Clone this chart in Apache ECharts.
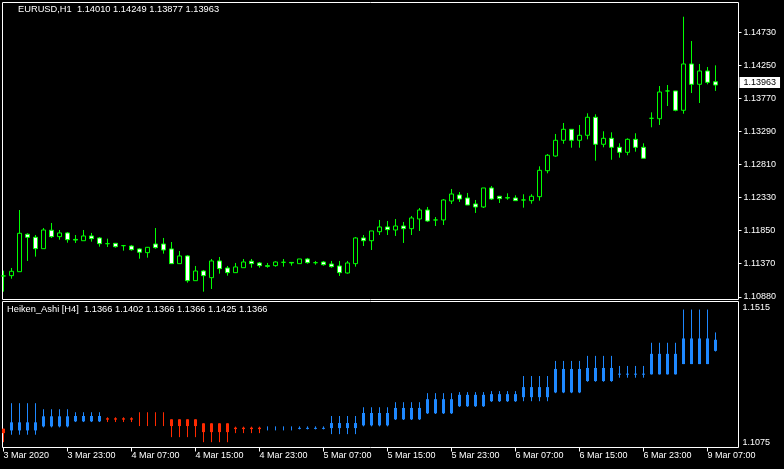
<!DOCTYPE html>
<html><head><meta charset="utf-8">
<script src="https://cdn.jsdelivr.net/npm/echarts@6/dist/echarts.min.js"></script>
<style>html,body{margin:0;padding:0;background:#000;}#c{width:784px;height:469px;}</style>
</head><body><div id="c"></div>
<script>
// ---- categories (H1 bars) ----
const times = [
'3 Mar 15:00','3 Mar 16:00','3 Mar 17:00','3 Mar 18:00','3 Mar 19:00','3 Mar 20:00','3 Mar 21:00','3 Mar 22:00','3 Mar 23:00',
'4 Mar 00:00','4 Mar 01:00','4 Mar 02:00','4 Mar 03:00','4 Mar 04:00','4 Mar 05:00','4 Mar 06:00','4 Mar 07:00','4 Mar 08:00','4 Mar 09:00','4 Mar 10:00','4 Mar 11:00',
'4 Mar 12:00','4 Mar 13:00','4 Mar 14:00','4 Mar 15:00','4 Mar 16:00','4 Mar 17:00','4 Mar 18:00','4 Mar 19:00','4 Mar 20:00','4 Mar 21:00','4 Mar 22:00','4 Mar 23:00',
'5 Mar 00:00','5 Mar 01:00','5 Mar 02:00','5 Mar 03:00','5 Mar 04:00','5 Mar 05:00','5 Mar 06:00','5 Mar 07:00','5 Mar 08:00','5 Mar 09:00','5 Mar 10:00','5 Mar 11:00',
'5 Mar 12:00','5 Mar 13:00','5 Mar 14:00','5 Mar 15:00','5 Mar 16:00','5 Mar 17:00','5 Mar 18:00','5 Mar 19:00','5 Mar 20:00','5 Mar 21:00','5 Mar 22:00','5 Mar 23:00',
'6 Mar 00:00','6 Mar 01:00','6 Mar 02:00','6 Mar 03:00','6 Mar 04:00','6 Mar 05:00','6 Mar 06:00','6 Mar 07:00','6 Mar 08:00','6 Mar 09:00','6 Mar 10:00','6 Mar 11:00',
'6 Mar 12:00','6 Mar 13:00','6 Mar 14:00','6 Mar 15:00','6 Mar 16:00','6 Mar 17:00','6 Mar 18:00','6 Mar 19:00','6 Mar 20:00','6 Mar 21:00','6 Mar 22:00','6 Mar 23:00',
'9 Mar 00:00','9 Mar 01:00','9 Mar 02:00','9 Mar 03:00','9 Mar 04:00','9 Mar 05:00','9 Mar 06:00','9 Mar 07:00','9 Mar 08:00'
];
// ---- EURUSD H1 OHLC ----
const open = [
1.11183,1.11187,1.11245,1.11790,1.11746,1.11580,1.11848,1.11755,1.11809,1.11715,
1.11696,1.11765,1.11736,1.11653,1.11658,1.11624,1.11619,1.11576,1.11522,1.11648,
1.11648,1.11576,1.11362,1.11474,1.11114,1.11255,1.11158,1.11401,1.11299,1.11231,
1.11303,1.11397,1.11372,1.11333,1.11333,1.11382,1.11380,1.11362,1.11430,1.11376,
1.11386,1.11357,1.11328,1.11226,1.11362,1.11736,1.11696,1.11827,1.11896,1.11852,
1.11910,1.11871,1.12012,1.12143,1.11998,1.11998,1.12274,1.12362,1.12318,1.12231,
1.12187,1.12464,1.12343,1.12322,1.12318,1.12289,1.12279,1.12337,1.12715,1.12929,
1.13158,1.13318,1.13158,1.13231,1.13493,1.13100,1.13187,1.13056,1.12983,1.13172,
1.13056,1.13478,1.13472,1.13876,1.13876,1.13595,1.14269,1.13973,1.14167,1.14010];
const close = [
1.11183,1.11251,1.11804,1.11746,1.11580,1.11852,1.11755,1.11809,1.11711,1.11705,
1.11765,1.11726,1.11653,1.11653,1.11609,1.11624,1.11565,1.11528,1.11600,1.11595,
1.11561,1.11362,1.11474,1.11114,1.11255,1.11187,1.11401,1.11289,1.11231,1.11314,
1.11386,1.11362,1.11333,1.11323,1.11386,1.11382,1.11372,1.11430,1.11376,1.11376,
1.11347,1.11318,1.11231,1.11372,1.11736,1.11696,1.11838,1.11896,1.11857,1.11910,
1.11871,1.12027,1.12143,1.11983,1.11998,1.12289,1.12376,1.12303,1.12216,1.12187,
1.12464,1.12303,1.12308,1.12318,1.12279,1.12289,1.12343,1.12721,1.12940,1.13158,
1.13318,1.13158,1.13231,1.13493,1.13100,1.13187,1.13056,1.12983,1.13172,1.13056,
1.12896,1.13478,1.13861,1.13876,1.13595,1.14269,1.13973,1.14167,1.14002,1.13963];
const low = [
1.10954,1.11143,1.11245,1.11401,1.11464,1.11580,1.11736,1.11711,1.11667,1.11663,
1.11696,1.11682,1.11609,1.11605,1.11595,1.11551,1.11551,1.11434,1.11449,1.11580,
1.11507,1.11362,1.11362,1.11085,1.11114,1.10954,1.10993,1.11216,1.11187,1.11231,
1.11303,1.11303,1.11303,1.11303,1.11318,1.11318,1.11333,1.11362,1.11362,1.11347,
1.11333,1.11303,1.11183,1.11216,1.11318,1.11619,1.11561,1.11779,1.11779,1.11765,
1.11663,1.11779,1.11838,1.11969,1.11910,1.11925,1.12231,1.12260,1.12216,1.12100,
1.12172,1.12289,1.12245,1.12293,1.12279,1.12177,1.12235,1.12279,1.12677,1.12919,
1.13108,1.13050,1.13050,1.13172,1.12861,1.13056,1.12875,1.12905,1.12940,1.12992,
1.12896,1.13347,1.13381,1.13657,1.13580,1.13545,1.13846,1.13701,1.13973,1.13877];
const high = [
1.11260,1.11299,1.12143,1.11804,1.11779,1.11881,1.11954,1.11852,1.11823,1.11779,
1.11852,1.11809,1.11750,1.11726,1.11663,1.11634,1.11634,1.11586,1.11605,1.11881,
1.11736,1.11677,1.11546,1.11488,1.11328,1.11270,1.11430,1.11459,1.11328,1.11372,
1.11430,1.11430,1.11386,1.11372,1.11397,1.11430,1.11386,1.11430,1.11445,1.11401,
1.11401,1.11401,1.11401,1.11401,1.11750,1.11779,1.11838,1.11998,1.11983,1.12012,
1.11969,1.12056,1.12172,1.12187,1.12041,1.12303,1.12449,1.12405,1.12391,1.12289,
1.12464,1.12493,1.12347,1.12386,1.12357,1.12372,1.12372,1.12779,1.12958,1.13250,
1.13410,1.13318,1.13381,1.13551,1.13536,1.13289,1.13274,1.13114,1.13187,1.13260,
1.13114,1.13565,1.13948,1.13963,1.13876,1.14957,1.14603,1.14269,1.14225,1.14249];
const lastPrice = 1.13963;

// ---- Heiken Ashi (H4) ----
const haTimes = ['3 Mar 12:00','3 Mar 16:00','3 Mar 20:00','4 Mar 00:00','4 Mar 04:00','4 Mar 08:00','4 Mar 12:00','4 Mar 16:00','4 Mar 20:00',
'5 Mar 00:00','5 Mar 04:00','5 Mar 08:00','5 Mar 12:00','5 Mar 16:00','5 Mar 20:00','6 Mar 00:00','6 Mar 04:00','6 Mar 08:00','6 Mar 12:00',
'6 Mar 16:00','6 Mar 20:00','9 Mar 00:00','9 Mar 04:00','9 Mar 08:00'];
const haOpen  = [1.11317,1.11265,1.11387,1.11538,1.11630,1.11612,1.11599,1.11478,1.11347,1.11326,1.11312,1.11335,1.11417,1.11599,1.11781,1.11994,1.12145,1.12267,1.12410,1.12752,1.12945,1.12955,1.13264,1.13663];
const haClose = [1.11183,1.11508,1.11690,1.11699,1.11590,1.11608,1.11396,1.11214,1.11305,1.11328,1.11342,1.11487,1.11790,1.11942,1.12206,1.12337,1.12358,1.12570,1.13117,1.13147,1.12975,1.13572,1.14036,1.13997];
const haLow   = [1.10910,1.11135,1.11356,1.11517,1.11517,1.11396,1.11062,1.10910,1.11183,1.11265,1.11296,1.11153,1.11387,1.11578,1.11760,1.11973,1.12124,1.12145,1.12388,1.12731,1.12853,1.12950,1.13264,1.13642];
const haHigh  = [1.11317,1.12085,1.11903,1.11812,1.11660,1.11812,1.11599,1.11478,1.11378,1.11387,1.11387,1.11699,1.11963,1.12115,1.12388,1.12419,1.12449,1.12904,1.13359,1.13511,1.13208,1.13906,1.14907,1.14218];

// ---- tick labels ----
const priceTicks = [1.1088, 1.1137, 1.1185, 1.1233, 1.1281, 1.1329, 1.1377, 1.1425, 1.1473];
const haTicks = [1.1515, 1.1075];
const xTickTimes  = ['3 Mar 15:00','3 Mar 23:00','4 Mar 07:00','4 Mar 15:00','4 Mar 23:00','5 Mar 07:00','5 Mar 15:00','5 Mar 23:00','6 Mar 07:00','6 Mar 15:00','6 Mar 23:00','9 Mar 07:00'];
const xTickLabels = ['3 Mar 2020','3 Mar 23:00','4 Mar 07:00','4 Mar 15:00','4 Mar 23:00','5 Mar 07:00','5 Mar 15:00','5 Mar 23:00','6 Mar 07:00','6 Mar 15:00','6 Mar 23:00','9 Mar 07:00'];
const mainTitle = 'EURUSD,H1  1.14010 1.14249 1.13877 1.13963';
const subTitle = 'Heiken_Ashi [H4]  1.1366 1.1402 1.1366 1.1366 1.1425 1.1366';

// ---- build ----
const FONT = 'Liberation Sans';
const FS = 9;
const GREEN = '#00ff00', BLUE = '#1e88ff', RED = '#ff2a00';
function h4Key(t) {
  const p = t.split(' ');
  const hh = Math.floor(parseInt(p[2], 10) / 4) * 4;
  return p[0] + ' ' + p[1] + ' ' + String(hh).padStart(2, '0') + ':00';
}
const candleData = times.map((t, i) => [i, open[i], close[i], low[i], high[i]]);
const haData = times.map((t, i) => {
  const j = haTimes.indexOf(h4Key(t));
  return [i, haOpen[j], haClose[j], haLow[j], haHigh[j]];
});
const xTickIdx = xTickTimes.map(t => times.indexOf(t));
const xMin = -0.125, xMax = 91.875;
const noLine = {show: false, onZero: false};

const chart = echarts.init(document.getElementById('c'), null, {renderer: 'canvas'});
chart.setOption({
  backgroundColor: '#000',
  animation: false,
  title: [
    {text: mainTitle, left: 18, top: 5, padding: 0, textStyle: {color: '#fff', fontSize: 9.3, fontWeight: 'normal', fontFamily: FONT}},
    {text: subTitle, left: 7, top: 305, padding: 0, textStyle: {color: '#fff', fontSize: 9.3, fontWeight: 'normal', fontFamily: FONT}}
  ],
  grid: [
    {left: 2.5, top: 2.5, width: 736, height: 297, show: true, borderColor: '#fff', borderWidth: 1, backgroundColor: '#000'},
    {left: 2.5, top: 301.5, width: 736, height: 146, show: true, borderColor: '#fff', borderWidth: 1, backgroundColor: '#000'}
  ],
  xAxis: [
    {type: 'value', gridIndex: 0, min: xMin, max: xMax, show: false, axisLine: noLine, splitLine: {show: false}},
    {type: 'value', gridIndex: 1, min: xMin, max: xMax, position: 'bottom',
     axisLine: noLine, splitLine: {show: false},
     axisTick: {show: true, customValues: xTickIdx, length: 4, lineStyle: {color: '#fff'}},
     axisLabel: {show: true, customValues: xTickIdx, align: 'left', margin: 4, color: '#fff', fontSize: FS, fontFamily: FONT,
       formatter: v => xTickLabels[xTickIdx.indexOf(Math.round(v))] || ''}}
  ],
  yAxis: [
    {type: 'value', gridIndex: 0, position: 'right', min: 1.1084, max: 1.15164, scale: true,
     axisLine: noLine, splitLine: {show: false},
     axisTick: {show: true, inside: false, customValues: priceTicks, length: 3, lineStyle: {color: '#fff'}},
     axisLabel: {show: true, customValues: priceTicks, margin: 5, color: '#fff', fontSize: FS, fontFamily: FONT,
       formatter: v => v.toFixed(5)}},
    {type: 'value', gridIndex: 1, position: 'right', min: haTicks[1], max: haTicks[0], scale: true,
     axisLine: noLine, splitLine: {show: false}, axisTick: {show: false},
     axisLabel: {show: true, customValues: [haTicks[0]], margin: 4, verticalAlign: 'top', padding: [2, 0, 0, 0], color: '#fff', fontSize: FS, fontFamily: FONT,
       formatter: v => v.toFixed(4)}},
    {type: 'value', gridIndex: 1, position: 'right', min: haTicks[1], max: haTicks[0], scale: true,
     axisLine: noLine, splitLine: {show: false}, axisTick: {show: false},
     axisLabel: {show: true, customValues: [haTicks[1]], margin: 4, verticalAlign: 'bottom', color: '#fff', fontSize: FS, fontFamily: FONT,
       formatter: v => v.toFixed(4)}}
  ],
  series: [
    {type: 'candlestick', xAxisIndex: 0, yAxisIndex: 0, data: candleData, encode: {x: 0, y: [1, 2, 3, 4]},
     barWidth: 4, clip: false,
     itemStyle: {color: '#000', color0: '#fff', borderColor: GREEN, borderColor0: GREEN, borderWidth: 1},
     markLine: {symbol: 'none', silent: true, animation: false,
       lineStyle: {color: 'rgba(0,0,0,0)', width: 1, type: 'solid'},
       label: {show: true, position: 'end', distance: 1, formatter: () => lastPrice.toFixed(5),
         backgroundColor: '#fff', color: '#000', padding: [1, 4, 1, 4], fontSize: FS, fontFamily: FONT},
       data: [{yAxis: lastPrice}]}},
    {type: 'custom', xAxisIndex: 1, yAxisIndex: 1, data: haData, encode: {x: 0, y: [1, 2, 3, 4]},
     renderItem: function (params, api) {
       const x = api.value(0), o = api.value(1), c = api.value(2), l = api.value(3), h = api.value(4);
       const pO = api.coord([x, o]), pC = api.coord([x, c]), pL = api.coord([x, l]), pH = api.coord([x, h]);
       const col = c >= o ? BLUE : RED;
       const top = Math.min(pO[1], pC[1]), bot = Math.max(pO[1], pC[1]);
       const children = [
         {type: 'line', shape: {x1: pH[0], y1: pH[1], x2: pL[0], y2: pL[1]}, style: {stroke: col, lineWidth: 1}}
       ];
       if (bot - top >= 0.5) {
         children.push({type: 'rect', shape: {x: pO[0] - 1.5, y: top, width: 3, height: Math.max(1, bot - top)}, style: {fill: col}});
       }
       return {type: 'group', children: children};
     }}
  ]
});
</script></body></html>
